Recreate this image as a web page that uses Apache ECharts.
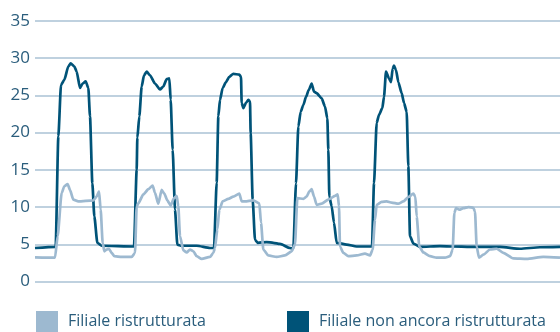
<!DOCTYPE html>
<html>
<head>
<meta charset="utf-8">
<script src="https://cdn.jsdelivr.net/npm/echarts@6/dist/echarts.min.js"></script>
<style>
  html, body { margin: 0; padding: 0; background: #fff; }
  #chart { width: 560px; height: 332px; }
</style>
</head>
<body>
<div id="chart"></div>
<script>
// ore (asse x) e valori
var seriesNames = ["Filiale ristrutturata", "Filiale non ancora ristrutturata"];
var yTicks = [0, 5, 10, 15, 20, 25, 30, 35];

// Filiale non ancora ristrutturata: [ora, valore]
var nonRistrutturata = [
    [0.0, 4.5], [6.2, 4.65], [7.0, 19.5], [7.8, 26.4], [8.8, 27.1], [10.0, 28.9], [10.7, 29.3],
    [11.8, 28.9], [12.5, 28.2], [13.5, 26.0], [14.3, 26.6], [15.2, 26.9], [16.0, 26.0], [16.5, 22.2],
    [17.2, 13.2], [17.8, 8.75], [18.7, 5.2], [20.0, 4.8], [29.7, 4.7],
    [30.5, 15.0], [30.7, 19.3], [31.3, 22.2], [32.0, 26.2], [32.7, 27.7], [33.5, 28.2], [34.5, 27.7],
    [36.0, 26.6], [37.5, 25.8], [38.5, 26.2], [39.5, 27.2], [40.3, 27.3], [40.7, 24.4], [41.3, 17.7],
    [42.0, 9.65], [42.7, 4.96], [44.0, 4.8], [48.5, 4.8], [52.5, 4.5], [53.7, 4.5],
    [54.5, 13.3], [55.0, 22.2], [55.5, 24.4], [56.3, 26.0], [57.3, 26.8], [58.3, 27.5], [59.5, 27.9],
    [61.3, 27.8], [61.8, 27.5], [62.0, 24.0], [62.5, 23.3], [63.3, 24.0], [64.0, 24.4], [64.5, 24.2],
    [64.7, 19.9], [65.3, 11.0], [66.0, 5.6], [66.8, 5.2], [69.5, 5.3], [71.5, 5.2], [73.5, 5.05],
    [76.5, 4.5], [77.5, 4.4],
    [78.3, 13.2], [79.0, 20.8], [79.7, 22.8], [80.5, 23.7], [81.3, 24.8], [82.1, 25.7], [83.0, 26.6],
    [83.7, 25.5], [84.5, 25.3], [86.0, 24.6], [87.0, 23.5], [87.7, 21.9], [88.0, 17.7], [88.3, 11.4],
    [89.0, 10.1], [89.7, 7.9], [90.5, 5.2], [93.5, 4.96], [96.5, 4.7], [101.1, 4.7],
    [101.7, 13.2], [102.5, 21.3], [103.2, 22.4], [104.2, 23.3], [104.7, 24.8], [105.3, 28.2],
    [106.2, 27.3], [106.8, 26.8], [107.3, 28.6], [107.7, 29.0], [108.3, 28.4], [109.0, 26.8],
    [110.0, 25.3], [110.7, 24.0], [111.5, 22.8], [112.0, 15.5], [112.5, 6.1], [113.5, 5.1],
    [115.5, 4.65], [121.5, 4.75], [125.5, 4.7], [130.5, 4.65], [139.5, 4.65], [145.5, 4.4],
    [151.5, 4.6], [157.5, 4.65]
];

// Filiale ristrutturata: [ora, valore]
var ristrutturata = [
    [0.0, 3.25], [6.0, 3.2], [6.8, 6.1], [8.0, 11.9], [8.8, 12.8], [9.8, 13.1], [10.5, 12.3],
    [11.5, 11.0], [13.0, 10.76], [17.5, 10.9], [18.5, 11.4], [19.2, 12.1], [19.7, 9.65], [20.3, 5.2],
    [20.8, 4.06], [21.5, 4.3], [22.2, 4.4], [23.0, 3.85], [23.8, 3.4], [26.0, 3.3], [29.0, 3.3],
    [30.0, 3.85], [30.5, 10.1], [31.0, 10.5], [32.5, 11.7], [34.0, 12.4], [35.3, 12.9], [36.0, 11.9],
    [37.0, 10.45], [38.0, 12.3], [38.8, 11.8], [39.7, 10.9], [40.7, 10.2], [41.7, 11.2], [42.5, 11.5],
    [43.0, 10.1], [43.5, 6.1], [44.5, 4.2], [45.5, 3.9], [46.5, 4.3], [47.5, 4.06], [48.5, 3.4],
    [50.0, 3.04], [52.5, 3.3], [53.5, 3.85], [54.0, 4.5], [54.7, 7.0], [55.3, 9.65], [56.3, 10.76],
    [58.0, 11.1], [59.5, 11.4], [61.3, 11.8], [62.0, 10.76], [63.0, 10.76], [65.5, 10.9], [67.3, 10.5],
    [67.8, 7.9], [68.5, 4.3], [70.0, 3.5], [72.5, 3.3], [75.0, 3.5], [77.0, 4.06], [78.0, 5.0],
    [78.7, 11.2], [80.5, 11.1], [81.5, 11.4], [82.3, 12.1], [83.0, 12.4], [83.7, 11.4], [84.5, 10.3],
    [86.0, 10.45], [88.0, 11.0], [90.0, 11.5], [90.8, 11.7], [91.2, 10.1], [91.5, 4.7], [92.5, 3.85],
    [94.0, 3.4], [96.5, 3.5], [99.0, 3.75], [100.5, 3.5], [101.3, 4.3], [102.0, 8.3], [102.5, 10.3],
    [104.0, 10.7], [105.5, 10.76], [107.0, 10.6], [109.0, 10.45], [110.5, 10.76], [112.0, 11.35],
    [113.5, 11.8], [114.1, 11.4], [114.5, 8.75], [115.3, 4.7], [116.5, 3.9], [118.5, 3.4], [120.5, 3.2],
    [123.0, 3.2], [124.5, 3.4], [125.3, 4.3], [125.8, 9.2], [126.3, 9.85], [127.3, 9.65], [128.5, 9.85],
    [130.0, 10.0], [131.5, 9.9], [132.0, 9.4], [132.5, 4.7], [133.2, 3.2], [134.5, 3.6], [136.5, 4.3],
    [138.5, 4.4], [140.5, 3.85], [143.5, 3.1], [147.5, 3.04], [152.5, 3.3], [157.5, 3.2]
];

var chartDom = document.getElementById('chart');
var myChart = echarts.init(chartDom, null, {renderer: 'canvas'});
var option;

var colLight = '#9db9d0';
var colDark = '#005378';
var textCol = '#2a5d7c';
var fontFam = '"Open Sans", "Noto Sans", sans-serif';

option = {
    animation: false,
    backgroundColor: '#fff',
    grid: {
        left: 35,
        right: 0,
        top: 21,
        bottom: 50.5
    },
    legend: [
        {
            data: [seriesNames[0]],
            left: 36,
            top: 311,
            padding: 0,
            icon: 'rect',
            itemWidth: 22,
            itemHeight: 21,
            textStyle: { color: textCol, fontSize: 16, fontFamily: fontFam, padding: [0, 0, 0, 5] }
        },
        {
            data: [seriesNames[1]],
            left: 287,
            top: 311,
            padding: 0,
            icon: 'rect',
            itemWidth: 22,
            itemHeight: 21,
            textStyle: { color: textCol, fontSize: 16, fontFamily: fontFam, padding: [0, 0, 0, 5] }
        }
    ],
    xAxis: {
        type: 'value',
        min: 0,
        max: 157.5,
        axisLine: { show: false },
        axisTick: { show: false },
        axisLabel: { show: false },
        splitLine: { show: false }
    },
    yAxis: {
        type: 'value',
        min: yTicks[0],
        max: yTicks[yTicks.length - 1],
        interval: 5,
        axisLine: { show: false },
        axisTick: { show: false },
        axisLabel: {
            margin: 5,
            color: textCol,
            fontSize: 17,
            fontFamily: fontFam
        },
        splitLine: {
            lineStyle: { color: '#aac2d5', width: 1.5 }
        }
    },
    series: [
        {
            name: seriesNames[1],
            type: 'line',
            data: nonRistrutturata,
            showSymbol: false,
            smooth: 0.2,
            smoothMonotone: 'x',
            itemStyle: { color: colDark },
            lineStyle: { color: colDark, width: 2.7, join: 'round' }
        },
        {
            name: seriesNames[0],
            type: 'line',
            data: ristrutturata,
            showSymbol: false,
            smooth: 0.2,
            smoothMonotone: 'x',
            itemStyle: { color: colLight },
            lineStyle: { color: colLight, width: 2.7, join: 'round' }
        }
    ]
};

option && myChart.setOption(option);
</script>
</body>
</html>
